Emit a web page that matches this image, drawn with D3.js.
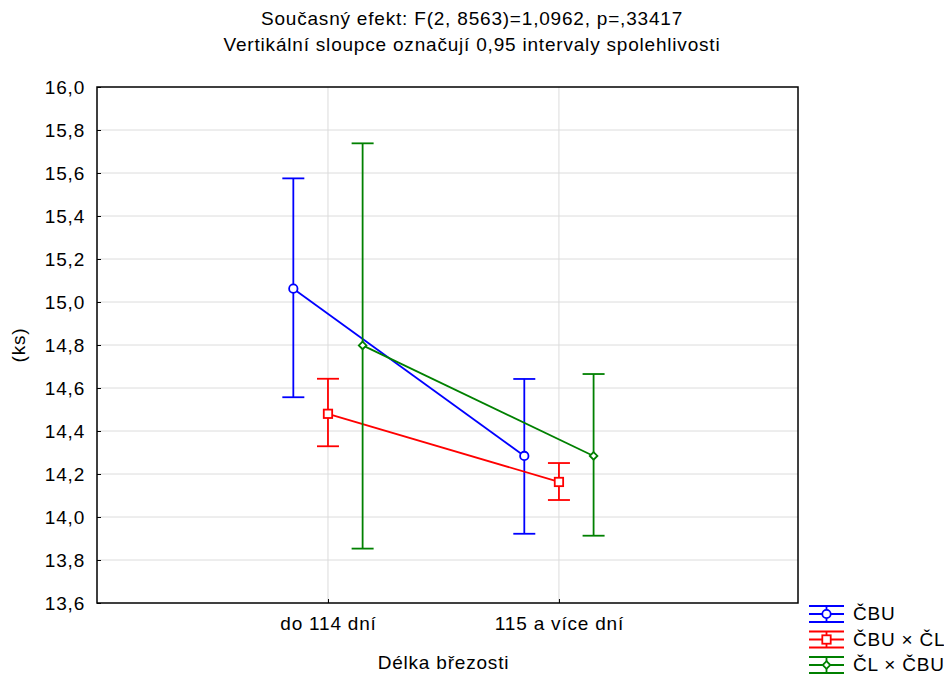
<!DOCTYPE html>
<html>
<head>
<meta charset="utf-8">
<script src="https://cdn.jsdelivr.net/npm/d3@7"></script>
<style>
  body { margin: 0; background: #fff; }
  svg { font-family: "Liberation Sans", Arial, sans-serif; }
  svg text { letter-spacing: 0.8px; }
</style>
</head>
<body>
<div id="chart"></div>
<script>
// chart data
const categories = ["do 114 dní", "115 a více dní"];
const seriesNames = ["ČBU", "ČBU × ČL", "ČL × ČBU"];
const seriesColors = ["#0000ff", "#ff0000", "#008000"];
const seriesMarkers = ["circle", "square", "diamond"];
const means = [
  [15.062, 14.284],
  [14.480, 14.163],
  [14.798, 14.284]
];
const lower = [
  [14.557, 13.922],
  [14.329, 14.079],
  [13.853, 13.913]
];
const upper = [
  [15.575, 14.642],
  [14.643, 14.251],
  [15.738, 14.665]
];
const yTicks = [13.6, 13.8, 14.0, 14.2, 14.4, 14.6, 14.8, 15.0, 15.2, 15.4, 15.6, 15.8, 16.0];
const seriesOffset = [-0.15, 0, 0.15];

const W = 944, H = 677;
const margin = { left: 97, right: 146, top: 87, bottom: 74 };
const iw = W - margin.left - margin.right;
const ih = H - margin.top - margin.bottom;
const FS = 19;
const SW = 1.8;

const svg = d3.select("#chart").append("svg")
  .attr("width", W).attr("height", H);

const g = svg.append("g").attr("transform", `translate(${margin.left},${margin.top})`);

const x = d3.scaleLinear().domain([0, 3.035]).range([0, iw]);
const y = d3.scaleLinear().domain([13.6, 16.0]).range([ih, 0]);
const fmt = v => d3.format(".1f")(v).replace(".", ",");

// grid lines
g.selectAll("line.hgrid").data(yTicks.slice(1, -1)).enter().append("line")
  .attr("x1", 0).attr("x2", iw)
  .attr("y1", d => y(d)).attr("y2", d => y(d))
  .attr("stroke", "#dcdcdc").attr("stroke-width", 1);
g.selectAll("line.vgrid").data(categories).enter().append("line")
  .attr("x1", (d, i) => x(i + 1)).attr("x2", (d, i) => x(i + 1))
  .attr("y1", 0).attr("y2", ih)
  .attr("stroke", "#dcdcdc").attr("stroke-width", 1);

// axes
const yAxis = d3.axisLeft(y).tickValues(yTicks).tickFormat(fmt).tickSize(-4).tickPadding(12);
const ya = g.append("g").call(yAxis);
ya.select(".domain").remove();
ya.selectAll("text").attr("font-size", FS).attr("fill", "#000");

const xAxis = d3.axisBottom(x).tickValues([1, 2]).tickFormat((d) => categories[d - 1]).tickSize(-4).tickPadding(14);
const xa = g.append("g").attr("transform", `translate(0,${ih})`).call(xAxis);
xa.select(".domain").remove();
xa.selectAll("text").attr("font-size", FS).attr("fill", "#000");

// frame
g.append("rect").attr("x", 0).attr("y", 0).attr("width", iw).attr("height", ih)
  .attr("fill", "none").attr("stroke", "#000").attr("stroke-width", 1.5);

// marker drawing
function drawMarker(sel, type, color, cx, cy) {
  if (type === "circle") {
    sel.append("circle").attr("cx", cx).attr("cy", cy).attr("r", 4.2)
      .attr("fill", "#fff").attr("stroke", color).attr("stroke-width", SW);
  } else if (type === "square") {
    sel.append("rect").attr("x", cx - 4.2).attr("y", cy - 4.2).attr("width", 8.4).attr("height", 8.4)
      .attr("fill", "#fff").attr("stroke", color).attr("stroke-width", SW);
  } else {
    sel.append("path").attr("d", `M${cx},${cy - 3.8}L${cx + 3.8},${cy}L${cx},${cy + 3.8}L${cx - 3.8},${cy}Z`)
      .attr("fill", "#fff").attr("stroke", color).attr("stroke-width", SW);
  }
}

const capW = 11;
seriesNames.forEach((name, s) => {
  const color = seriesColors[s];
  const sg = g.append("g");
  const px = i => x(i + 1 + seriesOffset[s]);

  // error bars
  categories.forEach((c, i) => {
    sg.append("line").attr("x1", px(i)).attr("x2", px(i))
      .attr("y1", y(lower[s][i])).attr("y2", y(upper[s][i]))
      .attr("stroke", color).attr("stroke-width", SW);
    [lower[s][i], upper[s][i]].forEach(v => {
      sg.append("line").attr("x1", px(i) - capW).attr("x2", px(i) + capW)
        .attr("y1", y(v)).attr("y2", y(v))
        .attr("stroke", color).attr("stroke-width", SW);
    });
  });

  // mean line
  const line = d3.line().x((d, i) => px(i)).y(d => y(d));
  sg.append("path").datum(means[s]).attr("d", line)
    .attr("fill", "none").attr("stroke", color).attr("stroke-width", SW);

  means[s].forEach((v, i) => drawMarker(sg, seriesMarkers[s], color, px(i), y(v)));
});

// titles
svg.append("text").attr("x", 472).attr("y", 25).attr("text-anchor", "middle")
  .attr("font-size", FS).text("Současný efekt: F(2, 8563)=1,0962, p=,33417");
svg.append("text").attr("x", 472).attr("y", 51).attr("text-anchor", "middle")
  .attr("font-size", FS).text("Vertikální sloupce označují 0,95 intervaly spolehlivosti");

svg.append("text").attr("x", margin.left + x(1.5)).attr("y", 669).attr("text-anchor", "middle")
  .attr("font-size", FS).text("Délka březosti");
svg.append("text").attr("transform", `translate(25,${margin.top + ih / 2}) rotate(-90)`)
  .attr("text-anchor", "middle").attr("font-size", FS).text("(ks)");

// legend
const legend = svg.append("g").attr("transform", "translate(809,614)");
seriesNames.forEach((name, s) => {
  const color = seriesColors[s];
  const lg = legend.append("g").attr("transform", `translate(0,${s * 25.5})`);
  [-8, 0, 8].forEach(dy => {
    lg.append("line").attr("x1", 0).attr("x2", 35).attr("y1", dy).attr("y2", dy)
      .attr("stroke", color).attr("stroke-width", SW);
  });
  lg.append("line").attr("x1", 17.5).attr("x2", 17.5).attr("y1", -8).attr("y2", 8)
    .attr("stroke", color).attr("stroke-width", SW);
  drawMarker(lg, seriesMarkers[s], color, 17.5, 0);
  lg.append("text").attr("x", 44).attr("y", 6).attr("font-size", FS).text(name);
});
</script>
</body>
</html>
